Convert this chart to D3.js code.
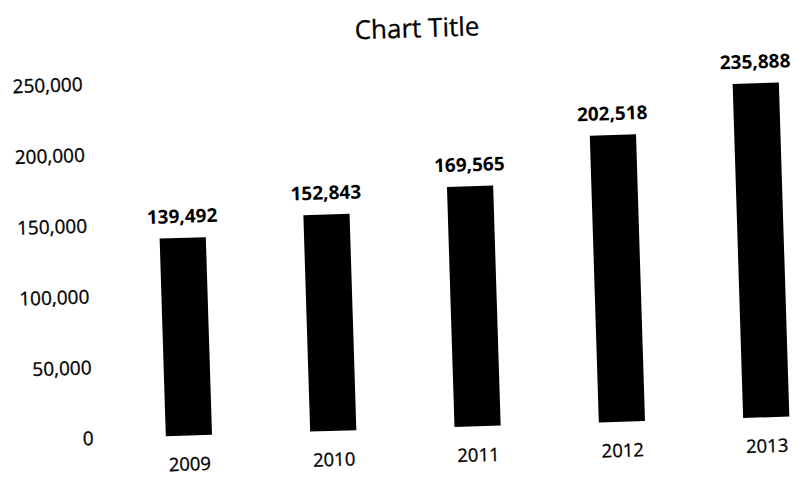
<!DOCTYPE html>
<html>
<head>
<meta charset="utf-8">
<script src="https://cdn.jsdelivr.net/npm/d3@7"></script>
<style>
  html, body { margin: 0; padding: 0; background: #fff; }
  svg { display: block; font-family: 'Open Sans', sans-serif; }
</style>
</head>
<body>
<svg id="chart"></svg>
<script>
const years = ['2009', '2010', '2011', '2012', '2013'];
const values = [139492, 152843, 169565, 202518, 235888];
const yTicks = [0, 50000, 100000, 150000, 200000, 250000];
const title = 'Chart Title';

const width = 795;
const height = 483;
// the reference is a slightly tilted scan
const tilt = -1.8;

const svg = d3.select('#chart')
  .attr('width', width)
  .attr('height', height)
  .attr('viewBox', [0, 0, width, height]);

const g = svg.append('g')
  .attr('transform', `rotate(${tilt},400,250)`);

const x = d3.scaleBand()
  .domain(years)
  .range([111, 833])
  .paddingInner(0.68)
  .paddingOuter(0.34);

const y = d3.scaleLinear()
  .domain([0, 250000])
  .range([428.7, 74.5]);

const fmt = d3.format(',');

// title
g.append('text')
  .attr('x', 424)
  .attr('y', 38)
  .attr('text-anchor', 'middle')
  .attr('font-size', 26)
  .attr('fill', '#000')
  .attr('stroke', '#000')
  .attr('stroke-width', 0.3)
  .text(title);

// y axis labels only
const yAxis = g.append('g')
  .attr('transform', 'translate(88,0)')
  .call(d3.axisLeft(y).tickValues(yTicks).tickFormat(fmt).tickSize(0).tickPadding(0))
  .call(a => a.select('.domain').remove());
yAxis.selectAll('text')
  .attr('font-size', 19)
  .attr('font-family', "'Open Sans', sans-serif")
  .attr('fill', '#000')
  .attr('stroke', '#000')
  .attr('stroke-width', 0.3);

// x axis labels
const xAxis = g.append('g')
  .attr('transform', 'translate(0,428.7)')
  .call(d3.axisBottom(x).tickSize(0).tickPadding(22))
  .call(a => a.select('.domain').remove());
xAxis.selectAll('text')
  .attr('font-size', 18.5)
  .attr('font-family', "'Open Sans', sans-serif")
  .attr('fill', '#000')
  .attr('stroke', '#000')
  .attr('stroke-width', 0.3);

// bars
g.append('g')
  .selectAll('rect')
  .data(values)
  .join('rect')
  .attr('x', (d, i) => x(years[i]))
  .attr('y', d => y(d))
  .attr('width', x.bandwidth())
  .attr('height', d => y(0) - y(d))
  .attr('fill', '#000');

// data labels
g.append('g')
  .selectAll('text')
  .data(values)
  .join('text')
  .attr('x', (d, i) => x(years[i]) + x.bandwidth() / 2)
  .attr('y', d => y(d) - 15)
  .attr('text-anchor', 'middle')
  .attr('font-size', 19)
  .attr('font-weight', 'bold')
  .attr('fill', '#000')
  .text(d => fmt(d));
</script>
</body>
</html>
